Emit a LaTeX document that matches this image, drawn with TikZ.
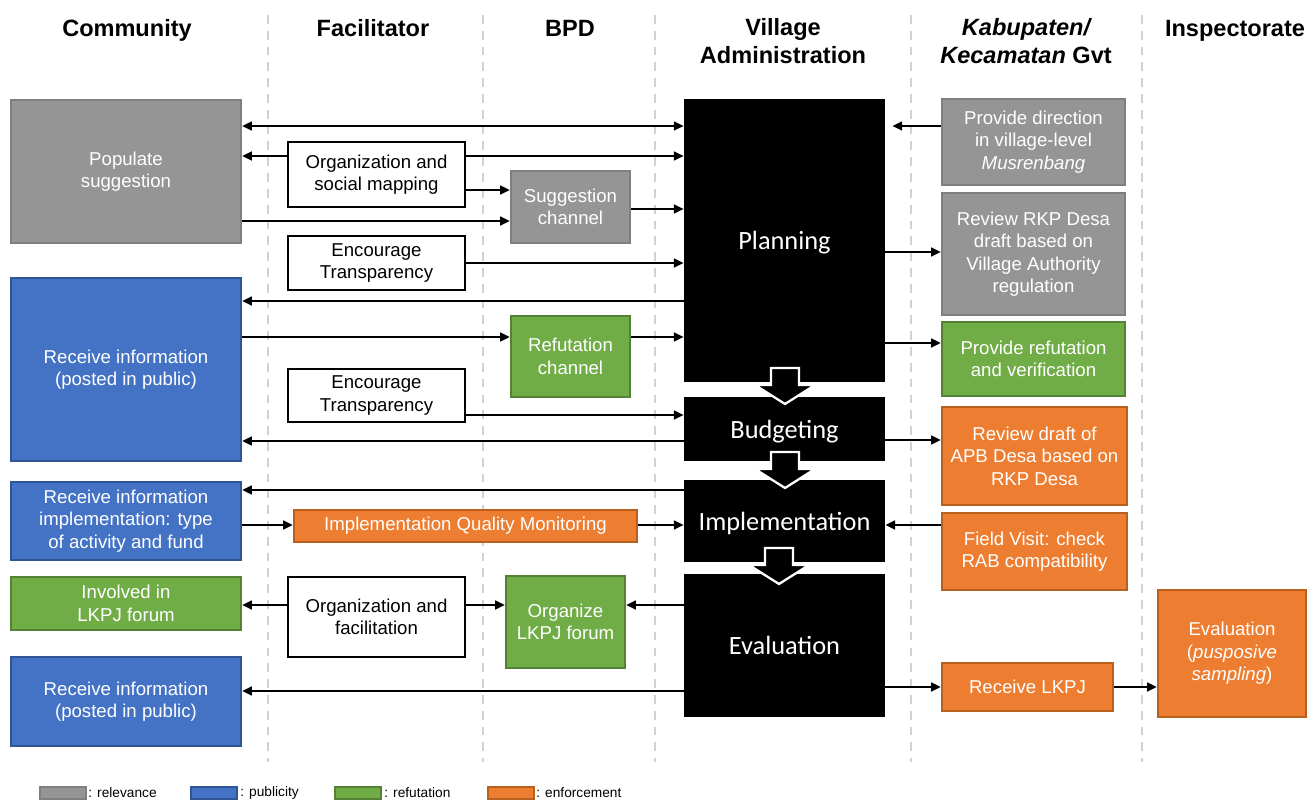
\documentclass[tikz,border=0pt]{standalone}
\usepackage{fontspec}
\setmainfont{Liberation Sans}
\newfontfamily\stagefont{Carlito}
\usetikzlibrary{arrows.meta}

\definecolor{relevC}{HTML}{959595}
\definecolor{relevD}{HTML}{7F7F7F}
\definecolor{publC}{HTML}{4472C4}
\definecolor{publD}{HTML}{2F5597}
\definecolor{refuC}{HTML}{70AD47}
\definecolor{refuD}{HTML}{548235}
\definecolor{enfoC}{HTML}{ED7D31}
\definecolor{enfoD}{HTML}{B9601F}

\begin{document}
\begin{tikzpicture}
[x=0.02cm,y=-0.02cm,>={Triangle[length=5.5pt,width=5pt]},
lane/.style={draw=black!18,line width=1.1pt,dash pattern=on 5pt off 4pt},
head/.style={font=\fontsize{13.4}{16}\selectfont\bfseries,align=center},
txt/.style={font=\fontsize{10.6}{12.8}\selectfont,align=center,inner sep=0pt},
sz/.style 2 args={minimum width=#1*0.02cm,minimum height=#2*0.02cm},
plain/.style={txt,draw=black,line width=1.3pt,fill=white},
relev/.style={txt,draw=relevD,fill=relevC,line width=1.3pt,text=white},
publ/.style={txt,draw=publD,fill=publC,line width=1.3pt,text=white},
refu/.style={txt,draw=refuD,fill=refuC,line width=1.3pt,text=white},
enfo/.style={txt,draw=enfoD,fill=enfoC,line width=1.3pt,text=white},
stage/.style={fill=black,text=white,inner sep=0pt,text height=10.6pt,text depth=0pt,font=\stagefont\fontsize{15}{18}\selectfont},
stagearrow/.style={fill=black,draw=white,line width=1.3pt,line join=miter},
link/.style={->,line width=1.1pt},
key/.style={font=\fontsize{7.8}{9}\selectfont,anchor=west,inner sep=0pt},
]
\useasboundingbox (0,0) rectangle (1308,800);

%Lanes
\foreach \x in {268,483,655,911,1142}
  \draw[lane] (\x,15) -- (\x,762);

%Headings
\node (hCom) at (127,37)[head,anchor=base] {Community};
\node (hFac) at (373,37)[head,anchor=base] {Facilitator};
\node (hBPD) at (570,37)[head,anchor=base] {BPD};
\node (hVil) at (783,41)[head] {Village\\Administration};
\node (hKab) at (1026,41)[head] {\itshape Kabupaten/\\\itshape Kecamatan\upshape{} Gvt};
\node (hIns) at (1235,37)[head,anchor=base] {Inspectorate};

%Community
\node (C1) at (126,171.5)[relev,sz={230}{143}] {Populate\\suggestion};
\node (C2) at (126,369.5)[publ,sz={230}{183}] {Receive information\\(posted in public)};
\node (C3) at (126,521)[publ,sz={230}{78}] {Receive information\\implementation: type\\of activity and fund};
\node (C4) at (126,603.5)[refu,sz={230}{53}] {Involved in\\LKPJ forum};
\node (C5) at (126,701.5)[publ,sz={230}{89}] {Receive information\\(posted in public)};

%Facilitator
\node (F1) at (376.5,174.5)[plain,sz={177}{65}] {Organization and\\social mapping};
\node (F2) at (376.5,263)[plain,sz={177}{54}] {Encourage\\Transparency};
\node (F3) at (376.5,395.5)[plain,sz={177}{53}] {Encourage\\Transparency};
\node (F4) at (465.5,526)[enfo,sz={343}{32}] {Implementation Quality Monitoring};
\node (F5) at (376.5,617)[plain,sz={177}{80}] {Organization and\\facilitation};

%BPD
\node (B1) at (570.5,207)[relev,sz={119}{72}] {Suggestion\\channel};
\node (B2) at (570.5,356.5)[refu,sz={119}{81}] {Refutation\\channel};
\node (B3) at (565.5,622)[refu,sz={119}{92}] {Organize\\LKPJ forum};

%Village administration
\node (V1) at (784.5,240.5)[stage,sz={201}{283}] {Planning};
\node (V2) at (784.5,429)[stage,sz={201}{64}] {Budgeting};
\node (V3) at (784.5,521)[stage,sz={201}{82}] {Implementation};
\node (V4) at (784.5,645.5)[stage,sz={201}{143}] {Evaluation};

%Kabupaten / Kecamatan
\node (K1) at (1033.5,142)[relev,sz={183}{86}] {Provide direction\\in village-level\\\textit{Musrenbang}};
\node (K2) at (1033.5,254)[relev,sz={183}{122}] {Review RKP Desa\\draft based on\\Village Authority\\regulation};
\node (K3) at (1033.5,359)[refu,sz={183}{74}] {Provide refutation\\and verification};
\node (K4) at (1034.5,456)[enfo,sz={185}{98}] {Review draft of\\APB Desa based on\\RKP Desa};
\node (K5) at (1034.5,551.5)[enfo,sz={185}{77}] {Field Visit: check\\RAB compatibility};
\node (K6) at (1027.5,687)[enfo,sz={171}{48}] {Receive LKPJ};

%Inspectorate
\node (I1) at (1232,653.5)[enfo,sz={148}{127}] {Evaluation\\(\textit{pusposive}\\\textit{sampling})};

%Stage arrows
\foreach \x/\y in {785/368,785/452,779/548}
  \draw[stagearrow] (\x-14,\y) -- ++(28,0) -- ++(0,17) -- ++(16,0) -- ++(-30,19) -- ++(-30,-19) -- ++(16,0) -- cycle;

%Connectors
\draw[link,<->] (C1.east |- 0,126) -- (V1.west |- 0,126);
\draw[link] (F1.west |- 0,156) -- (C1.east |- 0,156);
\draw[link] (F1.east |- 0,156) -- (V1.west |- 0,156);
\draw[link] (F1.east |- 0,190) -- (B1.west |- 0,190);
\draw[link] (C1.east |- 0,221) -- (B1.west |- 0,221);
\draw[link] (B1.east |- 0,209) -- (V1.west |- 0,209);
\draw[link] (F2.east |- 0,263) -- (V1.west |- 0,263);
\draw[link] (V1.west |- 0,301) -- (C2.east |- 0,301);
\draw[link] (C2.east |- 0,337) -- (B2.west |- 0,337);
\draw[link] (B2.east |- 0,337) -- (V1.west |- 0,337);
\draw[link] (F3.east |- 0,415) -- (V2.west |- 0,415);
\draw[link] (V2.west |- 0,441) -- (C2.east |- 0,441);
\draw[link] (V3.west |- 0,490) -- (C3.east |- 0,490);
\draw[link] (C3.east |- 0,525) -- (F4.west |- 0,525);
\draw[link] (F4.east |- 0,525) -- (V3.west |- 0,525);
\draw[link] (F5.west |- 0,605) -- (C4.east |- 0,605);
\draw[link] (F5.east |- 0,605) -- (B3.west |- 0,605);
\draw[link] (V4.west |- 0,605) -- (B3.east |- 0,605);
\draw[link] (V4.west |- 0,691) -- (C5.east |- 0,691);
\draw[link,shorten >=4pt] (K1.west |- 0,126) -- (V1.east |- 0,126);
\draw[link] (V1.east |- 0,252) -- (K2.west |- 0,252);
\draw[link] (V1.east |- 0,343) -- (K3.west |- 0,343);
\draw[link] (V2.east |- 0,440) -- (K4.west |- 0,440);
\draw[link] (K5.west |- 0,525) -- (V3.east |- 0,525);
\draw[link] (V4.east |- 0,687) -- (K6.west);
\draw[link] (K6.east) -- (I1.west |- 0,687);

%Legend
\node (L1) at (63,793)[relev,sz={46}{12}] {};
\node (T1) at (88,793)[key] {: relevance};
\node (L2) at (214,793)[publ,sz={46}{12}] {};
\node (T2) at (240,793)[key] {: publicity};
\node (L3) at (358,793)[refu,sz={46}{12}] {};
\node (T3) at (384,793)[key] {: refutation};
\node (L4) at (511,793)[enfo,sz={46}{12}] {};
\node (T4) at (536,793)[key] {: enforcement};
\end{tikzpicture}
\end{document}
